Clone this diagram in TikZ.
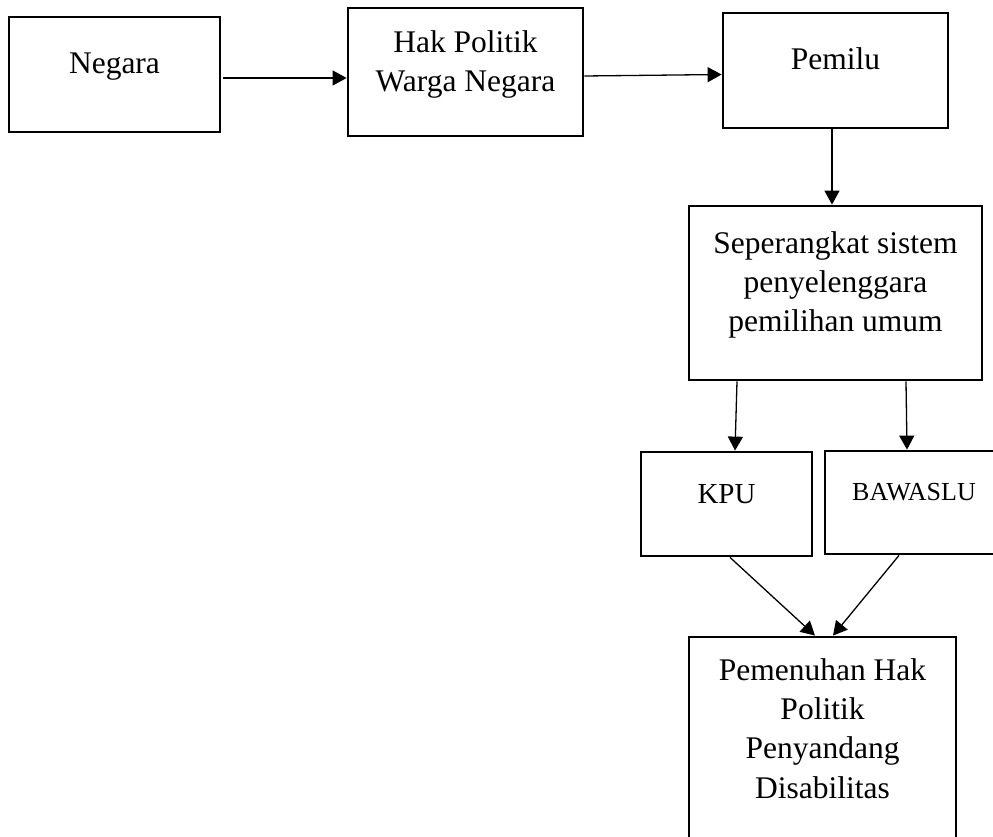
\documentclass[tikz,border=0pt]{standalone}
\usepackage{fontspec}
\setmainfont{Liberation Serif}
\usetikzlibrary{arrows.meta,calc}
\begin{document}
\begin{tikzpicture}[x=1pt,y=-1pt,
  box/.style={draw,line width=2.8pt,rectangle,inner sep=0pt,minimum width=#1},
  lbl/.style={anchor=base,inner sep=0pt,font=\fontsize{31.5}{37}\selectfont},
  arr/.style={line width=1.3pt,-{Triangle[length=14pt,width=15pt]}}]
\useasboundingbox (0,0) rectangle (993,837);
\clip (0,0) rectangle (993,837);
\fill[white] (0,0) rectangle (993,837);
% boxes
\node[box=211pt,minimum height=115pt] (negara) at (114.5,74.5) {};
\node[box=235pt,minimum height=128pt] (hak) at (465.5,72) {};
\node[box=225pt,minimum height=115pt] (pemilu) at (835.5,70.5) {};
\node[box=293pt,minimum height=174pt] (sep) at (835.5,293) {};
\node[box=171pt,minimum height=104pt] (kpu) at (726.5,504) {};
\node[box=178pt,minimum height=103pt] (baw) at (914,502.5) {};
\node[box=267pt,minimum height=213pt] (pem) at (822.5,743.5) {};
% texts
\node[lbl] (t1) at (114.5,74) {Negara};
\node[lbl] (t2) at (465.5,53) {Hak Politik};
\node[lbl] (t3) at (465.5,92) {Warga Negara};
\node[lbl] (t4) at (835.5,70) {Pemilu};
\node[lbl] (t5) at (835.5,253) {Seperangkat sistem};
\node[lbl] (t6) at (835.5,292) {penyelenggara};
\node[lbl] (t7) at (835.5,331) {pemilihan umum};
\node[lbl,font=\fontsize{29}{34}\selectfont] (t8) at (726.5,503) {KPU};
\node[lbl,font=\fontsize{26}{31}\selectfont] (t9) at (914,500) {BAWASLU};
\node[lbl] (t10) at (822.5,680) {Pemenuhan Hak};
\node[lbl] (t11) at (822.5,719) {Politik};
\node[lbl] (t12) at (822.5,758) {Penyandang};
\node[lbl] (t13) at (822.5,798) {Disabilitas};
% connectors
\draw[arr] ($(negara.east)+(2,3.5)$) -- ($(hak.west)+(0,6)$);
\draw[arr] ($(hak.east)+(0,4)$) -- ($(pemilu.west)+(0,4)$);
\draw[arr] ($(pemilu.south)+(-3.5,0)$) -- ($(sep.north)+(-3.5,0)$);
\draw[arr] ($(sep.south)+(-98.5,0)$) -- ($(kpu.north)+(8.5,0)$);
\draw[arr] ($(sep.south)+(70.5,0)$) -- ($(baw.north)+(-7,0)$);
\draw[arr] ($(kpu.south)+(3.5,0)$) -- ($(pem.north)+(-7.5,0)$);
\draw[arr] ($(baw.south)+(-15,0)$) -- ($(pem.north)+(10.5,0)$);
\end{tikzpicture}
\end{document}
